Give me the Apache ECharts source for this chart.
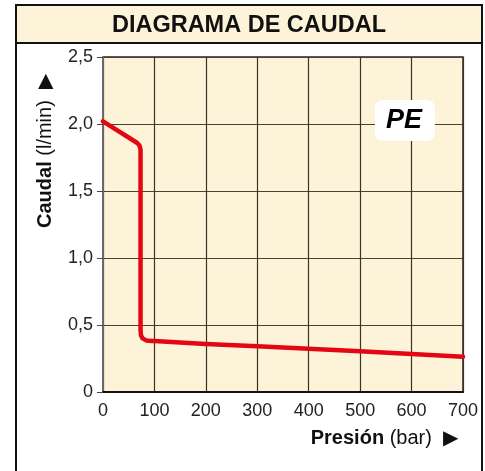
<!DOCTYPE html>
<html>
<head>
<meta charset="utf-8">
<script src="https://cdn.jsdelivr.net/npm/echarts@6/dist/echarts.min.js"></script>
<style>
  html, body { margin: 0; padding: 0; background: #fff; }
  #chart { width: 485px; height: 471px; }
</style>
</head>
<body>
<div id="chart"></div>
<script>
// presion (bar) / caudal (l/min)
const presion = [0, 66, 71, 73, 73, 74, 77, 84, 95, 100, 200, 300, 400, 500, 600, 700];
const caudal = [2.02, 1.86, 1.84, 1.81, 0.46, 0.42, 0.40, 0.385, 0.38, 0.38, 0.358, 0.341, 0.322, 0.304, 0.284, 0.263];
const xTicks = [0, 100, 200, 300, 400, 500, 600, 700];
const yTicks = [0, 0.5, 1.0, 1.5, 2.0, 2.5];

const FONT = '"Liberation Sans", Arial, sans-serif';
const BEIGE = '#fdf3d9';

const chart = echarts.init(document.getElementById('chart'));

chart.setOption({
  animation: false,
  textStyle: { fontFamily: FONT },
  grid: {
    left: 103,
    right: 22,
    top: 57,
    bottom: 79,
    show: true,
    backgroundColor: BEIGE,
    borderColor: '#222',
    borderWidth: 1.5,
  },
  xAxis: {
    type: 'value',
    min: xTicks[0],
    max: xTicks[xTicks.length - 1],
    interval: 100,
    z: 3,
    axisLine: { show: true, onZero: false, lineStyle: { color: '#111', width: 2 } },
    axisTick: { show: false },
    axisLabel: { color: '#222', fontSize: 18, margin: 10, fontFamily: FONT },
    splitLine: { show: true, lineStyle: { color: '#3a3328', width: 1.2 } },
  },
  yAxis: {
    type: 'value',
    min: yTicks[0],
    max: yTicks[yTicks.length - 1],
    interval: 0.5,
    z: 3,
    axisLine: { show: true, lineStyle: { color: '#777', width: 1.5 } },
    axisTick: { show: true, length: 6, lineStyle: { color: '#444', width: 1 } },
    axisLabel: {
      color: '#222',
      fontSize: 18,
      margin: 10,
      fontFamily: FONT,
      formatter: (v) => (v === 0 ? '0' : v.toFixed(1).replace('.', ',')),
    },
    splitLine: { show: true, lineStyle: { color: '#4a4236', width: 1.2 } },
  },
  series: [
    {
      type: 'line',
      data: presion.map((p, i) => [p, caudal[i]]),
      showSymbol: false,
      smooth: false,
      lineStyle: { color: '#e30613', width: 4.5, join: 'round', cap: 'round' },
      z: 5,
    },
  ],
  graphic: [
    // outer frame and title band
    {
      type: 'rect',
      z: -10,
      silent: true,
      shape: { x: 16, y: 5, width: 466, height: 480 },
      style: { fill: '#fff', stroke: '#111', lineWidth: 2 },
    },
    {
      type: 'rect',
      z: -9,
      silent: true,
      shape: { x: 16, y: 5, width: 466, height: 38 },
      style: { fill: BEIGE, stroke: '#111', lineWidth: 2 },
    },
    {
      type: 'text',
      z: 10,
      x: 249,
      y: 26,
      style: {
        text: 'DIAGRAMA DE CAUDAL',
        align: 'center',
        verticalAlign: 'middle',
        font: 'bold 23.5px ' + FONT,
        fill: '#111',
      },
    },
    // axis names
    {
      type: 'text',
      z: 10,
      x: 45,
      y: 151,
      rotation: Math.PI / 2,
      style: {
        text: '{b|Caudal} (l/min)  ▶',
        align: 'center',
        verticalAlign: 'middle',
        font: '20px ' + FONT,
        fill: '#111',
        rich: { b: { font: 'bold 20px ' + FONT, fill: '#111' } },
      },
    },
    {
      type: 'text',
      z: 10,
      x: 458,
      y: 438,
      style: {
        text: '{b|Presión} (bar)  ▶',
        align: 'right',
        verticalAlign: 'middle',
        font: '20px ' + FONT,
        fill: '#111',
        rich: { b: { font: 'bold 20px ' + FONT, fill: '#111' } },
      },
    },
    // PE badge
    {
      type: 'rect',
      z: 10,
      shape: { x: 375, y: 100, width: 60, height: 41, r: 8 },
      style: { fill: '#fff' },
    },
    {
      type: 'text',
      z: 11,
      x: 404,
      y: 121,
      style: {
        text: 'PE',
        align: 'center',
        verticalAlign: 'middle',
        font: 'italic bold 27px ' + FONT,
        fill: '#000',
      },
    },
  ],
});
</script>
</body>
</html>
